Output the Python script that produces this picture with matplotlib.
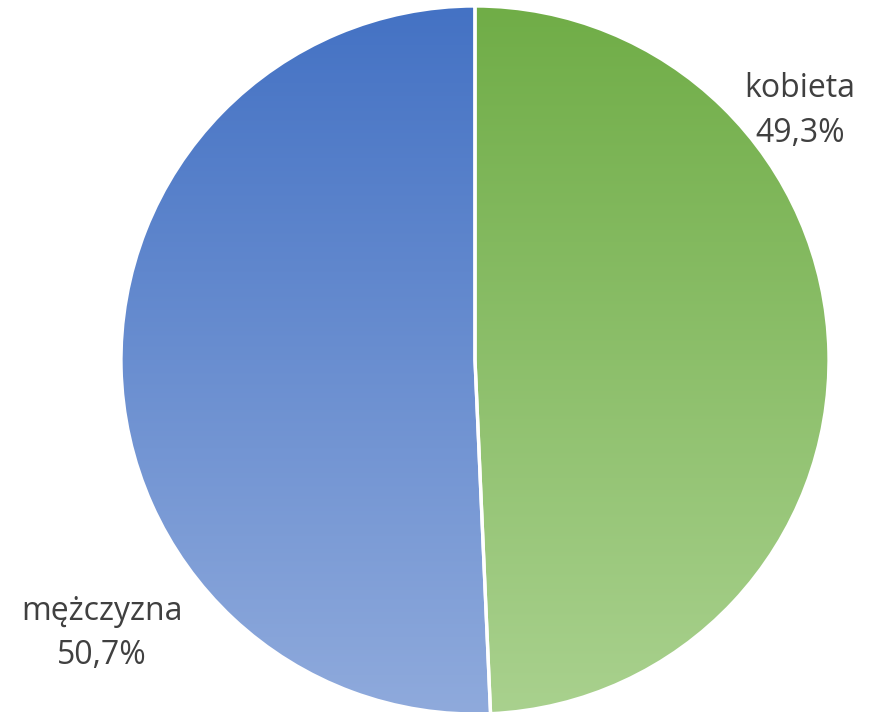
"""
Pie chart of respondents by sex, with vertical gradient fills.
Outputs: out.png
"""
import matplotlib
matplotlib.use("Agg")
import matplotlib.pyplot as plt
import numpy as np
from matplotlib.colors import to_rgb

LABELS = ["kobieta", "mężczyzna"]
SHARES = [49.3, 50.7]
TOP_COLORS = ["#70AD47", "#4472C4"]
BOTTOM_COLORS = ["#A9D18E", "#8FAADC"]

plt.rcParams.update({"font.family": ["Open Sans", "DejaVu Sans"]})

W, H = 871, 712
CX, CY, R = 475, H - 360, 354

fig = plt.figure(figsize=(W / 100, H / 100), dpi=100)
ax = fig.add_axes([0, 0, 1, 1])

wedges, _ = ax.pie(SHARES, startangle=90, counterclock=False,
                   center=(CX, CY), radius=R, frame=True,
                   wedgeprops=dict(edgecolor="white", linewidth=2.4,
                                   facecolor="none"))
ax.set_xlim(0, W)
ax.set_ylim(0, H)
ax.set_aspect("equal")
ax.axis("off")

# vertical gradient clipped to each wedge
t = np.linspace(0, 1, 256)[:, None]
for w, c0, c1 in zip(wedges, TOP_COLORS, BOTTOM_COLORS):
    c0, c1 = np.array(to_rgb(c0)), np.array(to_rgb(c1))
    grad = (1 - t) * c0 + t * c1
    img = np.repeat(grad[:, None, :], 2, axis=1)
    im = ax.imshow(img, extent=(CX - R, CX + R, CY - R, CY + R),
                   origin="upper", aspect="auto", zorder=1,
                   interpolation="bilinear")
    im.set_clip_path(w)
    w.set_zorder(2)

# label name / value baselines
label_pos = [(800, H - 97, H - 142), (102, H - 620, H - 664)]
for (x, y1, y2), lab, val in zip(label_pos, LABELS, SHARES):
    ax.text(x, y1, lab, ha="center", va="baseline", fontsize=23,
            color="#404040")
    ax.text(x, y2, f"{val:.1f}%".replace(".", ","), ha="center",
            va="baseline", fontsize=23, color="#404040")

fig.savefig("out.png", dpi=100)
